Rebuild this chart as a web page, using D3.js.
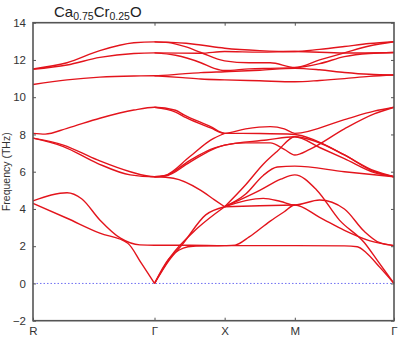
<!DOCTYPE html>
<html>
<head>
<meta charset="utf-8">
<script src="https://cdn.jsdelivr.net/npm/d3@7"></script>
<style>
  body { margin: 0; background: #fff; }
  text { font-family: "Liberation Sans", Arial, sans-serif; }
</style>
</head>
<body>
<svg id="chart" width="400" height="337"></svg>
<script>
// high symmetry points and their path length along the k-path
var qLabels = ["R", "Γ", "X", "M", "Γ"];
var qDist = [0, 0.866, 1.366, 1.866, 2.573];
var yTicks = [-2, 0, 2, 4, 6, 8, 10, 12, 14];

// band curves: [position (0=R,1=Γ,2=X,3=M,4=Γ), frequency THz]
var upperBands = [
  [[0,11.52],[0.28,11.85],[0.55,12.5],[0.83,12.92],[1,12.97],[1.2,12.95],[1.45,12.9],[1.66,12.8],[2,12.63],[2.5,12.5],[3,12.45],[3.25,12.57],[3.5,12.72],[3.75,12.88],[4,12.98]],
  [[0,11.5],[0.28,11.73],[0.55,12.14],[0.83,12.35],[1,12.38],[1.66,12.36],[2,12.45],[2.5,12.42],[3,12.45],[3.5,12.37],[4,12.4]],
  [[1,12.97],[1.2,12.93],[1.45,12.7],[1.66,12.4],[2,11.95],[2.35,11.85],[2.65,11.85],[3,11.6],[3.25,12.0],[3.5,12.38],[3.75,12.75],[4,12.98]],
  [[1,12.38],[1.3,12.25],[1.66,11.85],[1.85,11.55],[2,11.43],[2.35,11.52],[2.65,11.55],[3,11.58],[3.25,11.8],[3.5,12.18],[3.75,12.35],[4,12.4]],
  [[0,10.68],[0.28,10.93],[0.55,11.08],[0.83,11.14],[1,11.15],[1.4,11.25],[1.66,11.32],[2,11.37],[2.5,11.45],[3,11.55],[3.25,11.47],[3.5,11.33],[3.75,11.23],[4,11.19]],
  [[1,11.15],[1.4,11.05],[1.66,10.98],[2,10.93],[2.5,10.88],[3,10.83],[3.25,10.9],[3.5,11.0],[3.75,11.12],[4,11.19]]
];

var opticBands = [
  [[0,8.06],[0.1,8.02],[0.28,8.33],[0.55,8.87],[0.83,9.31],[1,9.46],[1.3,9.3],[1.42,9.05],[1.8,8.42],[2,8.06],[2.3,8.3],[2.65,8.42],[2.85,8.3],[3,8.06],[3.5,8.8],[3.8,9.25],[4,9.46]],
  [[1,9.46],[1.3,9.2],[1.45,8.9],[1.8,8.35],[2,8.06],[2.5,8.05],[3,8.0],[3.2,7.7],[3.5,6.9],[3.8,6.05],[4,5.73]],
  [[0,7.8],[0.25,7.43],[0.53,6.63],[0.8,6.0],[1,5.73],[1.15,5.8],[1.5,6.8],[1.8,7.7],[2,8.06]],
  [[0,7.8],[0.25,7.35],[0.53,6.45],[0.8,5.83],[1,5.73],[1.15,5.78],[1.5,6.6],[1.8,7.2],[2,7.43],[2.6,7.7],[3,7.88],[3.2,7.65],[3.5,6.9],[3.8,6.0],[4,5.73]],
  [[1,5.73],[1.15,5.76],[1.5,6.5],[1.8,7.15],[2,7.43],[2.3,7.55],[2.65,7.55],[2.85,7.2],[3,6.9],[3.15,7.2],[3.5,8.3],[3.8,9.1],[4,9.46]],
  [[1,5.73],[1.27,5.65],[1.66,5.0],[1.85,4.5],[2,4.12]],
  [[2,4.12],[2.3,5.3],[2.55,6.4],[2.75,7.1],[3,7.88],[3.25,7.3],[3.5,6.7],[3.8,5.95],[4,5.73]],
  [[2,4.12],[2.3,4.8],[2.55,5.8],[2.75,6.25],[3,6.3],[3.5,6.0],[4,5.73]]
];

var lowBands = [
  [[0,4.43],[0.15,4.75],[0.28,4.87],[0.4,4.55],[0.55,3.41],[0.72,2.43],[0.88,2.07],[1,2.05],[1.5,2.05],[2,2.03],[2.5,2.03],[3,2.03],[3.5,2.02],[3.63,1.97],[3.72,1.65],[3.86,0.85],[4,0]],
  [[0,4.3],[0.28,3.5],[0.55,2.7],[0.78,2.16],[0.89,1.1],[1,0]],
  [[1,0],[1.2,1.2],[1.41,2.16],[1.73,3.68],[2,4.12]],
  [[1,0],[1.23,1.44],[1.61,2.96],[2,4.12]],
  [[1,0],[1.2,1.3],[1.41,1.9],[1.55,2.0],[2,2.03],[2.15,2.06],[2.35,2.5],[2.65,3.35],[2.85,3.85],[3,4.21],[3.25,3.55],[3.5,2.85],[3.75,2.3],[4,2.03]],
  [[2,4.12],[2.5,5.0],[2.8,5.6],[3,5.83],[3.22,5.02],[3.45,3.4],[3.7,2.2],[3.85,1.1],[4,0]],
  [[2,4.12],[2.3,4.45],[2.55,4.57],[2.8,4.4],[3,4.21],[3.25,4.48],[3.5,4.0],[3.7,2.8],[3.85,2.2],[4,2.03]],
  [[2,4.12],[2.5,4.17],[3,4.21]]
];

var svg = d3.select("#chart");
var plotL = 33, plotR = 394, plotT = 22.7, plotB = 320.7;

var xd = d3.scaleLinear().domain([0, qDist[4]]).range([plotL, plotR]);
var x = d3.scaleLinear().domain([0, 1, 2, 3, 4]).range(qDist.map(xd));
var y = d3.scaleLinear().domain([-2, 14]).range([plotB, plotT]);

// zero line
svg.append("line")
  .attr("x1", plotL).attr("x2", plotR)
  .attr("y1", y(0)).attr("y2", y(0))
  .style("stroke", "#7070f2")
  .style("stroke-width", 1)
  .style("stroke-dasharray", "1.5,2");

var line = d3.line()
  .x(function(d) { return x(d[0]); })
  .y(function(d) { return y(d[1]); })
  .curve(d3.curveMonotoneX);

var bands = upperBands.concat(opticBands, lowBands);
svg.append("g")
  .selectAll("path")
  .data(bands)
  .enter().append("path")
  .attr("d", line)
  .style("fill", "none")
  .style("stroke", "#e3141c")
  .style("stroke-width", 1.4);

// axes
var xAxis = d3.axisBottom(x).tickValues([0,1,2,3,4])
  .tickFormat(function(d) { return qLabels[d]; })
  .tickSizeInner(-3).tickSizeOuter(0).tickPadding(6);
var gx = svg.append("g").attr("transform", "translate(0," + plotB + ")").call(xAxis);

svg.append("g").attr("transform", "translate(0," + plotT + ")")
  .call(d3.axisTop(x).tickValues([1,2,3]).tickSizeInner(-3).tickSizeOuter(0).tickFormat(""));

svg.append("g").attr("transform", "translate(" + plotL + ",0)")
  .call(d3.axisLeft(y).tickValues(yTicks).tickSizeInner(-3).tickSizeOuter(0).tickPadding(7));

svg.append("g").attr("transform", "translate(" + plotR + ",0)")
  .call(d3.axisRight(y).tickValues(yTicks).tickSizeInner(-3).tickSizeOuter(0).tickFormat(""));

svg.selectAll(".domain").remove();
svg.selectAll(".tick line").style("stroke", "#555");
svg.selectAll(".tick text").style("font-size", "11.5px").style("fill", "#333")
  .style("font-family", "'Liberation Sans', Arial, sans-serif");

// frame
svg.append("rect")
  .attr("x", plotL).attr("y", plotT)
  .attr("width", plotR - plotL).attr("height", plotB - plotT)
  .style("fill", "none")
  .style("stroke", "#555")
  .style("stroke-width", 1.6);

// y label
svg.append("text")
  .attr("transform", "translate(10," + ((plotT + plotB) / 2) + ") rotate(-90)")
  .attr("text-anchor", "middle")
  .style("font-size", "10.5px")
  .style("fill", "#333")
  .text("Frequency (THz)");

// title with subscripts
var title = svg.append("text")
  .attr("x", 54).attr("y", 17)
  .style("font-size", "15px")
  .style("fill", "#222");
title.append("tspan").text("Ca");
title.append("tspan").attr("dy", 3).style("font-size", "10.5px").text("0.75");
title.append("tspan").attr("dy", -3).text("Cr");
title.append("tspan").attr("dy", 3).style("font-size", "10.5px").text("0.25");
title.append("tspan").attr("dy", -3).text("O");
</script>
</body>
</html>
